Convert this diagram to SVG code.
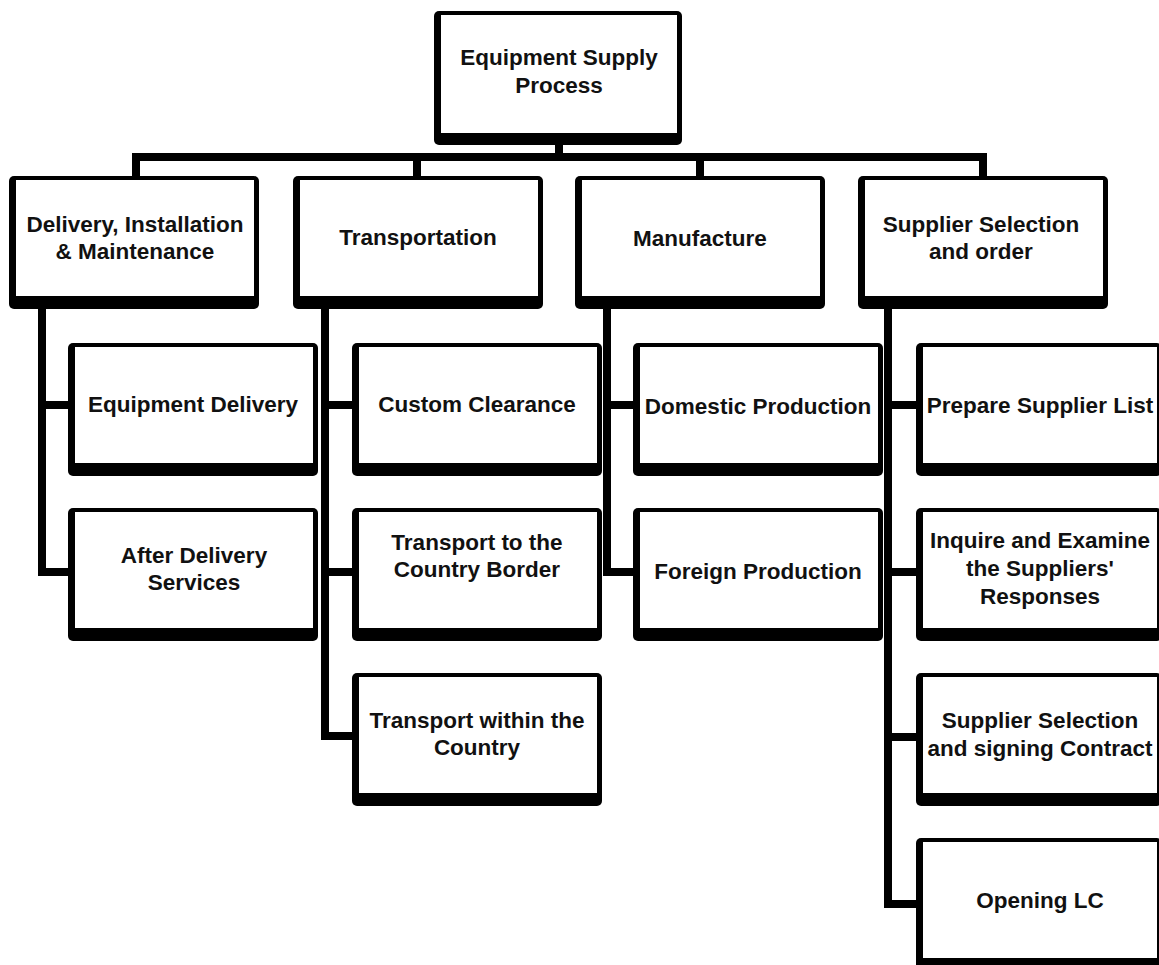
<svg xmlns="http://www.w3.org/2000/svg" width="1159" height="965" viewBox="0 0 1159 965">
<defs>
<style>
.o{fill:#000;}
.i{fill:#fff;}
.t{font-family:"Liberation Sans",Arial,sans-serif;font-weight:bold;font-size:22.5px;fill:#111;text-anchor:middle;}
.c{fill:none;stroke:#000;stroke-width:8;stroke-linejoin:miter;stroke-linecap:butt;}
</style>
</defs>
<rect width="1159" height="965" fill="#fff"/>
<g id="connectors">
<path class="c" d="M559 145V157"/>
<path class="c" d="M136 178V157H983V178"/>
<path class="c" d="M417 157V178"/>
<path class="c" d="M700 157V178"/>
<path class="c" d="M42 308V572H70M42 405H70"/>
<path class="c" d="M325 308V736H354M325 405H354M325 572H354"/>
<path class="c" d="M607 308V572H635M607 405H635"/>
<path class="c" d="M888 308V904H918M888 405H918M888 572H918M888 737H918"/>
</g>
<g id="root">
<rect class="o" x="434" y="11" width="248" height="134" rx="5"/>
<rect class="i" x="441" y="15" width="236" height="118"/>
<text class="t" x="559" y="65">Equipment Supply</text>
<text class="t" x="559" y="93">Process</text>
</g>
<g id="delivery">
<rect class="o" x="9" y="176" width="250" height="133" rx="5"/>
<rect class="i" x="16" y="180" width="238" height="116"/>
<text class="t" x="135" y="232">Delivery, Installation</text>
<text class="t" x="135" y="259">&amp; Maintenance</text>
</g>
<g id="transportation">
<rect class="o" x="293" y="176" width="250" height="133" rx="5"/>
<rect class="i" x="300" y="180" width="238" height="116"/>
<text class="t" x="418" y="245">Transportation</text>
</g>
<g id="manufacture">
<rect class="o" x="575" y="176" width="250" height="133" rx="5"/>
<rect class="i" x="582" y="180" width="238" height="116"/>
<text class="t" x="700" y="246">Manufacture</text>
</g>
<g id="supplier">
<rect class="o" x="858" y="176" width="250" height="133" rx="5"/>
<rect class="i" x="865" y="180" width="238" height="116"/>
<text class="t" x="981" y="232">Supplier Selection</text>
<text class="t" x="981" y="259">and order</text>
</g>
<g id="equipment-delivery">
<rect class="o" x="68" y="343" width="250" height="133" rx="5"/>
<rect class="i" x="75" y="347" width="238" height="116"/>
<text class="t" x="193" y="412">Equipment Delivery</text>
</g>
<g id="after-delivery">
<rect class="o" x="68" y="508" width="250" height="133" rx="5"/>
<rect class="i" x="75" y="512" width="238" height="116"/>
<text class="t" x="194" y="563">After Delivery</text>
<text class="t" x="194" y="590">Services</text>
</g>
<g id="custom-clearance">
<rect class="o" x="352" y="343" width="250" height="133" rx="5"/>
<rect class="i" x="359" y="347" width="238" height="116"/>
<text class="t" x="477" y="412">Custom Clearance</text>
</g>
<g id="transport-border">
<rect class="o" x="352" y="508" width="250" height="133" rx="5"/>
<rect class="i" x="359" y="512" width="238" height="116"/>
<text class="t" x="477" y="550">Transport to the</text>
<text class="t" x="477" y="577">Country Border</text>
</g>
<g id="transport-within">
<rect class="o" x="352" y="673" width="250" height="133" rx="5"/>
<rect class="i" x="359" y="677" width="238" height="116"/>
<text class="t" x="477" y="728">Transport within the</text>
<text class="t" x="477" y="755">Country</text>
</g>
<g id="domestic-production">
<rect class="o" x="633" y="343" width="250" height="133" rx="5"/>
<rect class="i" x="640" y="347" width="238" height="116"/>
<text class="t" x="758" y="414">Domestic Production</text>
</g>
<g id="foreign-production">
<rect class="o" x="633" y="508" width="250" height="133" rx="5"/>
<rect class="i" x="640" y="512" width="238" height="116"/>
<text class="t" x="758" y="579">Foreign Production</text>
</g>
<g id="prepare-supplier-list">
<rect class="o" x="916" y="343" width="246" height="133" rx="5"/>
<rect class="i" x="923" y="347" width="234" height="116"/>
<text class="t" x="1040" y="413">Prepare Supplier List</text>
</g>
<g id="inquire">
<rect class="o" x="916" y="508" width="246" height="133" rx="5"/>
<rect class="i" x="923" y="512" width="234" height="116"/>
<text class="t" x="1040" y="548">Inquire and Examine</text>
<text class="t" x="1040" y="576">the Suppliers'</text>
<text class="t" x="1040" y="604">Responses</text>
</g>
<g id="supplier-selection-contract">
<rect class="o" x="916" y="673" width="246" height="133" rx="5"/>
<rect class="i" x="923" y="677" width="234" height="116"/>
<text class="t" x="1040" y="728">Supplier Selection</text>
<text class="t" x="1040" y="756">and signing Contract</text>
</g>
<g id="opening-lc">
<rect class="o" x="916" y="838" width="246" height="133" rx="5"/>
<rect class="i" x="923" y="842" width="234" height="116"/>
<text class="t" x="1040" y="908">Opening LC</text>
</g>
</svg>
